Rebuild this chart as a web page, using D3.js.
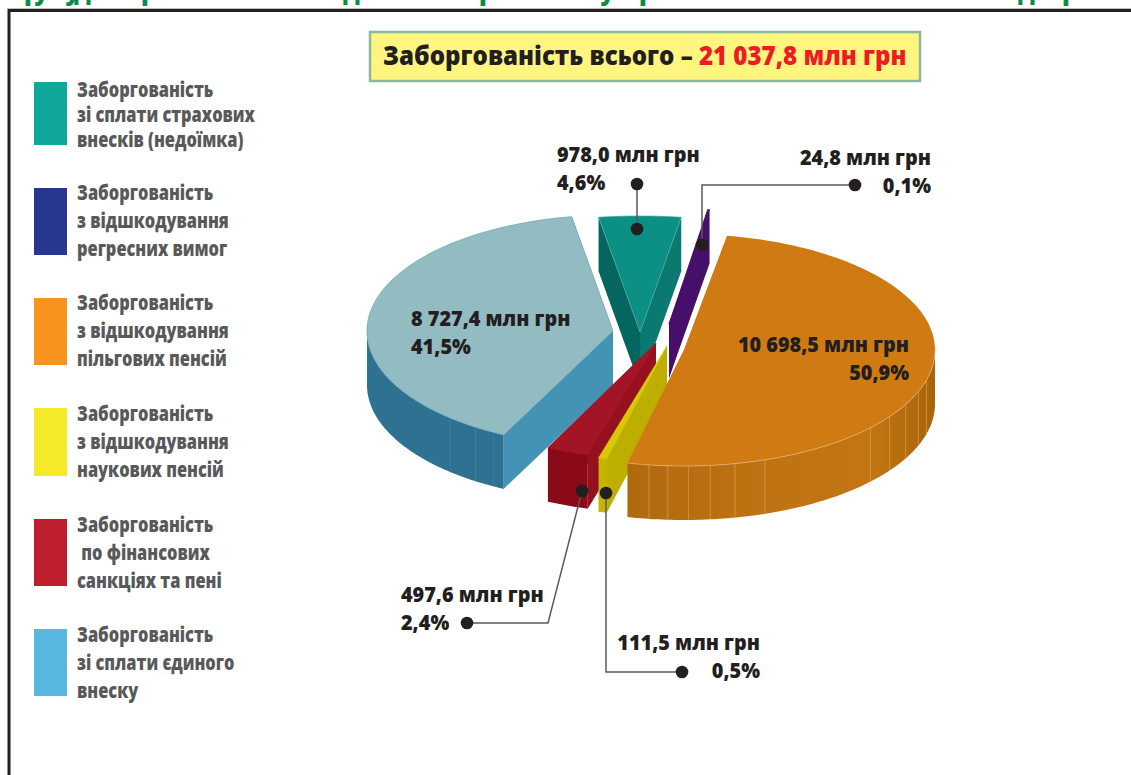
<!DOCTYPE html>
<html>
<head>
<meta charset="utf-8">
<script src="https://cdn.jsdelivr.net/npm/d3@7"></script>
<style>
  html, body { margin: 0; padding: 0; background: #fff; overflow: hidden; }
  svg { display: block; }
  text { font-family: "Open Sans", sans-serif; font-weight: 800; }
</style>
</head>
<body>
<div id="chart"></div>
<script>
// Chart data, clockwise from the teal slice
const categories = [
  ["Заборгованість", "зі сплати страхових", "внесків (недоїмка)"],
  ["Заборгованість", "з відшкодування", "регресних вимог"],
  ["Заборгованість", "з відшкодування", "пільгових пенсій"],
  ["Заборгованість", "з відшкодування", "наукових пенсій"],
  ["Заборгованість", " по фінансових", "санкціях та пені"],
  ["Заборгованість", "зі сплати єдиного", "внеску"]
];
const values = [978.0, 24.8, 10698.5, 111.5, 497.6, 8727.4];
const valueLabels = ["978,0 млн грн", "24,8 млн грн", "10 698,5 млн грн", "111,5 млн грн", "497,6 млн грн", "8 727,4 млн грн"];
const percentLabels = ["4,6%", "0,1%", "50,9%", "0,5%", "2,4%", "41,5%"];
const totalPrefix = "Заборгованість всього – ";
const totalValue = "21 037,8 млн грн";

// Colours
const legendColors = ["#10a89a", "#27368f", "#f7941e", "#f4ea2a", "#be1e2d", "#58b7e0"];
const topColors = ["#0c8f85", "#46106a", "#cf7a13", "#d8c900", "#a31526", "#92bbc2"];
const wallColors = ["#0a7a70", "#46106a", "url(#orangeWall)", "#c4b300", "#8a0a18", "#2e7190"];
const startFaceColors = ["#04665f", "#46106a", "#cf7a13", "#bdae00", "#96101f", "#4393b5"];
const endFaceColors = ["#0a7a70", "#46106a", "#cf7a13", "#bdae00", "#96101f", "#92bbc2"];
const edgeColors = ["#4fa89f", "#46106a", "#e3b06f", "#d8c900", "#a31526", "#5fa3bf"];

// Exploded pie layout: the apex of each slice, its radius and hand-tuned angle nudges (degrees)
const apexX = [640, 669, 684, 667, 656, 613];
const apexY = [332, 324, 350, 346, 343, 331];
const radiusX = [285, 251, 251, 251, 251, 246];
const radiusY = 116;
const depth = 54;
const startNudge = [-1.1, -0.6, 0, 0.9, 0.9, 3];
const endNudge = [-1.15, -0.6, 0, 0.9, 2.1, -2.4];
const firstAngle = -7.26;
const drawOrder = [0, 1, 5, 4, 3, 2];

// Seams on the outer walls, degrees round the pie
const orangeSeams = [188, 183.7, 179, 174, 168.3, 161.2, 132, 125, 118, 111, 105];
const blueSeams = [221.5, 214, 209];

const rad = Math.PI / 180;
const deg = 180 / Math.PI;

const svg = d3.select("#chart").append("svg")
  .attr("width", 1131)
  .attr("height", 775);

// Orange wall shades slowly round the front
const wallGradient = svg.append("defs").append("linearGradient")
  .attr("id", "orangeWall")
  .attr("gradientUnits", "userSpaceOnUse")
  .attr("x1", 628).attr("x2", 935).attr("y1", 0).attr("y2", 0);
[[0, "#b06a0e"], [0.45, "#bf7312"], [0.8, "#c27512"], [1, "#a8640a"]].forEach(s => {
  wallGradient.append("stop").attr("offset", s[0]).attr("stop-color", s[1]);
});

function addText(parent, x, y, str, size, fill, anchor, squeeze) {
  return parent.append("text")
    .attr("transform", `translate(${x},${y}) scale(${squeeze},1)`)
    .attr("text-anchor", anchor)
    .attr("font-size", size)
    .attr("fill", fill)
    .style("white-space", "pre")
    .text(str);
}

// Clipped heading above the frame: only the descenders are legible in the picture
const headingBits = [["р", 24], ["у", 34], ["у", 65], ["д", 74], ["р", 141], ["д", 343], ["р", 479], ["у", 600], ["р", 639], ["д", 1018], ["р", 1062]];
headingBits.forEach(b => addText(svg, b[1], 0, b[0], 24, "#0b8a4b", "start", 1));

// Frame
svg.append("line").attr("x1", 7).attr("x2", 1131).attr("y1", 8.5).attr("y2", 8.5).attr("stroke", "#bbb").attr("stroke-width", 1);
svg.append("path")
  .attr("d", "M1131,10.5H9V775")
  .attr("fill", "none")
  .attr("stroke", "#231f20")
  .attr("stroke-width", 3);

// Total box
svg.append("rect")
  .attr("x", 370).attr("y", 32)
  .attr("width", 550).attr("height", 49)
  .attr("fill", "#fff57f")
  .attr("stroke", "#8db89e")
  .attr("stroke-width", 2.5);
const totalText = addText(svg, 383, 65, "", 26, "#231f20", "start", 0.926);
totalText.append("tspan").text(totalPrefix);
totalText.append("tspan").attr("fill", "#ed1c24").text(totalValue);

// Legend
const legendTop = [82, 188, 298, 408, 519, 629];
const legendHeight = [63, 67, 67, 68, 67, 67];
const legendBase = [97, 200, 310, 421, 532, 642];
const legend = svg.append("g");
categories.forEach((lines, i) => {
  legend.append("rect")
    .attr("x", 34).attr("y", legendTop[i])
    .attr("width", 33).attr("height", legendHeight[i])
    .attr("fill", legendColors[i]);
  lines.forEach((line, j) => {
    addText(legend, 77, legendBase[i] + j * (i === 0 ? 25 : 28), line, 21, "#58595b", "start", 0.78);
  });
});

// Pie
const pie = d3.pie().sort(null)
  .startAngle(firstAngle * rad)
  .endAngle((firstAngle + 360) * rad);
const arcs = pie(values);

function point(i, angle, z) {
  return [apexX[i] + radiusX[i] * Math.sin(angle * rad),
          apexY[i] - radiusY * Math.cos(angle * rad) + z];
}

const polygon = d3.line();
const pieGroup = svg.append("g");

function sampleAngles(a0, a1) {
  const steps = Math.max(2, Math.ceil(Math.abs(a1 - a0)));
  return d3.range(steps + 1).map(k => a0 + (a1 - a0) * k / steps);
}

function drawWall(g, i, a0, a1) {
  const lo = Math.max(a0, 90);
  const hi = Math.min(a1, 270);
  if (lo >= hi) return;
  const angles = sampleAngles(lo, hi);
  const pts = angles.map(a => point(i, a, 0)).concat(angles.slice().reverse().map(a => point(i, a, depth)));
  g.append("path").attr("d", polygon(pts) + "Z").attr("fill", wallColors[i]);
}

function drawSeams(g, i, seams, color) {
  seams.forEach(a => {
    g.append("path")
      .attr("d", polygon([point(i, a, 0), point(i, a, depth)]))
      .attr("stroke", color)
      .attr("stroke-width", 0.7)
      .attr("fill", "none");
  });
}

drawOrder.forEach(i => {
  const a0 = arcs[i].startAngle * deg + startNudge[i];
  const a1 = arcs[i].endAngle * deg + endNudge[i];
  const g = pieGroup.append("g");
  const apex = [apexX[i], apexY[i]];
  const apexLow = [apexX[i], apexY[i] + depth];

  g.append("path")
    .attr("d", polygon([apex, point(i, a1, 0), point(i, a1, depth), apexLow]) + "Z")
    .attr("fill", endFaceColors[i]);
  g.append("path")
    .attr("d", polygon([apex, point(i, a0, 0), point(i, a0, depth), apexLow]) + "Z")
    .attr("fill", startFaceColors[i]);

  drawWall(g, i, a0, a1);
  if (i === 2) drawSeams(g, i, orangeSeams, "#d89f5c");
  if (i === 5) drawSeams(g, i, blueSeams, "#3f86a3");

  const rim = sampleAngles(a0, a1).map(a => point(i, a, 0));
  g.append("path")
    .attr("d", polygon([apex].concat(rim)) + "Z")
    .attr("fill", topColors[i])
    .attr("stroke", edgeColors[i])
    .attr("stroke-width", i === 2 ? 0 : 0.7);
  if (i === 2) {
    g.append("path")
      .attr("d", polygon(sampleAngles(Math.max(a0, 90), a1).map(a => point(i, a, 0))))
      .attr("fill", "none")
      .attr("stroke", edgeColors[i])
      .attr("stroke-width", 0.8);
  }
});

// Leader lines, each from its label dot to its slice
const leaders = [
  [[637, 184], [637, 229]],
  [[855, 185], [702, 185], [702, 245]],
  null,
  [[682, 672], [606, 672], [606, 493]],
  [[467, 623], [548, 623], [582, 491]],
  null
];
const leaderGroup = svg.append("g");
leaders.forEach(pts => {
  if (!pts) return;
  leaderGroup.append("path")
    .attr("d", polygon(pts))
    .attr("fill", "none")
    .attr("stroke", "#58595b")
    .attr("stroke-width", 1.5);
  [pts[0], pts[pts.length - 1]].forEach(p => {
    leaderGroup.append("circle").attr("cx", p[0]).attr("cy", p[1]).attr("r", 6.3).attr("fill", "#231f20");
  });
});

// Value labels: two lines, anchored per slice
const labelX = [557, 931, 909, 760, 401, 411];
const labelY = [162, 165, 352, 650, 602, 326];
const labelAnchor = ["start", "end", "end", "end", "start", "start"];
const labels = svg.append("g");
values.forEach((v, i) => {
  addText(labels, labelX[i], labelY[i], valueLabels[i], 21, "#231f20", labelAnchor[i], 0.945);
  addText(labels, labelX[i], labelY[i] + 28, percentLabels[i], 21, "#231f20", labelAnchor[i], 0.945);
});
</script>
</body>
</html>
